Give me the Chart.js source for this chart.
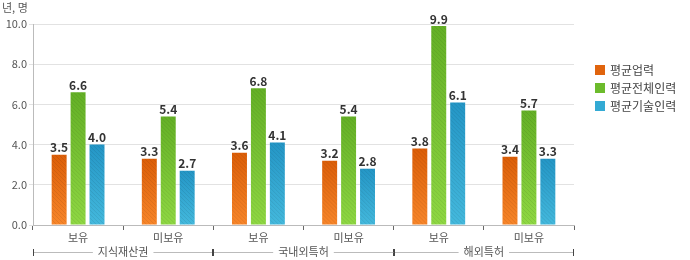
<!DOCTYPE html>
<html>
<head>
<meta charset="utf-8">
<script src="https://cdn.jsdelivr.net/npm/chart.js@4.4.1/dist/chart.umd.min.js"></script>
<style>
  html, body { margin: 0; padding: 0; background: #fff; }
  #wrap { position: relative; width: 690px; height: 260px; }
</style>
</head>
<body>
<div id="wrap"><canvas id="chart" width="690" height="260"></canvas></div>
<script>
// ===== 데이터 =====
const categories = ['보유', '미보유', '보유', '미보유', '보유', '미보유'];
const groups = ['지식재산권', '국내외특허', '해외특허'];
const seriesNames = ['평균업력', '평균전체인력', '평균기술인력'];
const avgYears = [3.5, 3.3, 3.6, 3.2, 3.8, 3.4];
const avgTotalStaff = [6.6, 5.4, 6.8, 5.4, 9.9, 5.7];
const avgTechStaff = [4.0, 2.7, 4.1, 2.8, 6.1, 3.3];
const yTicks = [0, 2, 4, 6, 8, 10];
const unitLabel = '년, 명';

const FONT = '"Noto Sans CJK KR", "Noto Sans", sans-serif';

// 색상 (위: 진함, 아래: 밝음)
const palette = [
    { top: '#dc5e08', bottom: '#f8862a', legend: '#e0640e' },
    { top: '#64b026', bottom: '#8fd843', legend: '#6cbb2c' },
    { top: '#2496c6', bottom: '#44b9dd', legend: '#33aad4' }
];

function barGradient(idx) {
    return (ctx) => {
        const chart = ctx.chart;
        const y = chart.scales.y;
        if (!y || ctx.type !== 'data') return palette[idx].legend;
        const top = y.getPixelForValue(ctx.raw);
        const bottom = y.getPixelForValue(0);
        if (!isFinite(top) || !isFinite(bottom) || top === bottom) return palette[idx].legend;
        const g = chart.ctx.createLinearGradient(0, top, 0, bottom);
        g.addColorStop(0, palette[idx].top);
        g.addColorStop(1, palette[idx].bottom);
        return g;
    };
}

// 빗금 + 값 라벨
const barDecor = {
    id: 'barDecor',
    afterDatasetsDraw(chart) {
        const ctx = chart.ctx;
        chart.data.datasets.forEach((ds, i) => {
            chart.getDatasetMeta(i).data.forEach((bar, j) => {
                const left = bar.x - bar.width / 2;
                const h = bar.base - bar.y;
                ctx.save();
                ctx.beginPath();
                ctx.rect(left, bar.y, bar.width, h);
                ctx.clip();
                ctx.strokeStyle = 'rgba(0,0,0,0.08)';
                ctx.lineWidth = 1;
                for (let k = -bar.width; k < h + bar.width; k += 4) {
                    ctx.beginPath();
                    ctx.moveTo(left, bar.y + k);
                    ctx.lineTo(left + bar.width, bar.y + k + bar.width);
                    ctx.stroke();
                }
                ctx.restore();

                ctx.save();
                ctx.fillStyle = '#333';
                ctx.font = 'bold 12px ' + FONT;
                ctx.textAlign = 'center';
                ctx.textBaseline = 'bottom';
                ctx.fillText(ds.data[j].toFixed(1), bar.x, bar.y - 1);
                ctx.restore();
            });
        });
    }
};

// 그룹 라벨 + 범례 + 단위
const extras = {
    id: 'extras',
    afterDraw(chart) {
        const ctx = chart.ctx;
        const x = chart.scales.x;
        const y0 = 252;
        const step = x.getPixelForValue(1) - x.getPixelForValue(0);
        ctx.save();
        ctx.font = '11px ' + FONT;
        ctx.textBaseline = 'middle';
        ctx.textAlign = 'center';
        groups.forEach((g, i) => {
            const a = x.getPixelForValue(i * 2) - step / 2;
            const b = a + step * 2;
            const mid = (a + b) / 2;
            const tw = ctx.measureText(g).width + 10;
            ctx.strokeStyle = '#bbb';
            ctx.lineWidth = 1;
            ctx.beginPath();
            ctx.moveTo(a, y0 + 0.5); ctx.lineTo(mid - tw / 2, y0 + 0.5);
            ctx.moveTo(mid + tw / 2, y0 + 0.5); ctx.lineTo(b, y0 + 0.5);
            ctx.stroke();
            ctx.strokeStyle = '#444';
            ctx.beginPath();
            ctx.moveTo(Math.round(a) + 0.5, y0 - 3); ctx.lineTo(Math.round(a) + 0.5, y0 + 4);
            ctx.moveTo(Math.round(b) - 0.5, y0 - 3); ctx.lineTo(Math.round(b) - 0.5, y0 + 4);
            ctx.stroke();
            ctx.fillStyle = '#555';
            ctx.fillText(g, mid, y0);
        });

        // 단위
        ctx.textAlign = 'left';
        ctx.fillStyle = '#555';
        ctx.fillText(unitLabel, 2, 8);

        // 범례
        seriesNames.forEach((name, i) => {
            const ly = 70 + i * 18;
            ctx.fillStyle = palette[i].legend;
            ctx.fillRect(595, ly - 5, 10, 10);
            ctx.fillStyle = '#444';
            ctx.font = '12px ' + FONT;
            ctx.fillText(name, 610, ly);
        });
        ctx.restore();
    }
};

const datasets = [avgYears, avgTotalStaff, avgTechStaff].map((d, i) => ({
    label: seriesNames[i],
    data: d,
    backgroundColor: barGradient(i),
    borderWidth: 0,
    barPercentage: 0.79,
    categoryPercentage: 0.63
}));

new Chart(document.getElementById('chart'), {
    type: 'bar',
    data: { labels: categories, datasets: datasets },
    options: {
        responsive: false,
        animation: false,
        layout: { padding: { top: 24, right: 116, left: 0, bottom: 0 } },
        plugins: {
            legend: { display: false },
            tooltip: { enabled: false }
        },
        scales: {
            x: {
                grid: { drawOnChartArea: false, offset: true, tickLength: 5, color: '#666' },
                border: { color: '#bbb' },
                ticks: { color: '#555', font: { family: FONT, size: 11 }, padding: 1 },
                afterFit(s) { s.height = 35; }
            },
            y: {
                min: 0, max: 10,
                afterBuildTicks(s) { s.ticks = yTicks.map(v => ({ value: v })); },
                grid: { color: '#e2e2e2', tickLength: 4 },
                border: { color: '#bbb' },
                ticks: {
                    color: '#555', font: { family: FONT, size: 11 }, padding: 2,
                    callback: v => v.toFixed(1)
                },
                afterFit(s) { s.width = 33; }
            }
        }
    },
    plugins: [barDecor, extras]
});
</script>
</body>
</html>
